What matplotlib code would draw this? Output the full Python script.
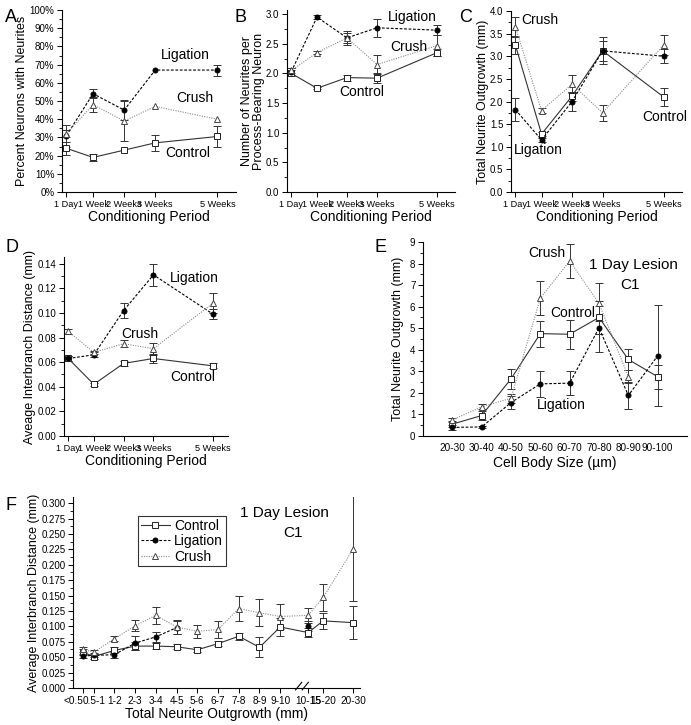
import numpy as np
import matplotlib.pyplot as plt
from matplotlib.ticker import MultipleLocator, AutoMinorLocator, FormatStrFormatter

plt.rcParams['font.family'] = ['Liberation Sans', 'DejaVu Sans']

# conditioning period (weeks) for panels A-D
weeks = [1 / 7, 1, 2, 3, 5]
week_labels = ["1 Day", "1 Week", "2 Weeks", "3 Weeks", "5 Weeks"]

# A: percent neurons with neurites
a_ctrl = [24, 19, 23, 27, 30.5]
a_ctrl_err = [3.5, 1.8, 0, 4.5, 5.5]
a_lig = [31, 54, 45, 67, 67]
a_lig_err = [6, 2.5, 5.5, 0, 3]
a_crush = [32, 48, 39, 47, 40]
a_crush_err = [2, 4, 11, 0, 0]

# B: neurites per process-bearing neuron
b_ctrl = [2.0, 1.75, 1.93, 1.92, 2.35]
b_ctrl_err = [0.05, 0.02, 0.05, 0.08, 0.06]
b_lig = [2.03, 2.95, 2.6, 2.77, 2.73]
b_lig_err = [0.06, 0.03, 0.12, 0.15, 0.09]
b_crush = [2.05, 2.35, 2.6, 2.15, 2.47]
b_crush_err = [0.04, 0.02, 0.08, 0.16, 0.18]

# C: total neurite outgrowth
c_ctrl = [3.25, 1.28, 2.12, 3.12, 2.1]
c_ctrl_err = [0.2, 0.05, 0.1, 0.22, 0.2]
c_lig = [1.82, 1.15, 2.0, 3.12, 3.0]
c_lig_err = [0.25, 0.04, 0.22, 0.3, 0.15]
c_crush = [3.65, 1.8, 2.38, 1.75, 3.25]
c_crush_err = [0.22, 0.06, 0.2, 0.18, 0.23]

# D: average interbranch distance
d_ctrl = [0.063, 0.042, 0.059, 0.063, 0.057]
d_ctrl_err = [0.002, 0.001, 0.002, 0.004, 0.002]
d_lig = [0.063, 0.066, 0.102, 0.131, 0.099]
d_lig_err = [0.002, 0.002, 0.006, 0.009, 0.004]
d_crush = [0.085, 0.068, 0.075, 0.071, 0.108]
d_crush_err = [0.002, 0.001, 0.003, 0.005, 0.008]

# E: outgrowth by cell body size
cell_bins = ["20-30", "30-40", "40-50", "50-60", "60-70", "70-80", "80-90", "90-100"]
e_ctrl = [0.55, 0.95, 2.65, 4.75, 4.72, 5.5, 3.55, 2.75]
e_ctrl_err = [0.15, 0.2, 0.48, 0.6, 0.68, 1.6, 0.5, 0.55]
e_lig = [0.4, 0.42, 1.55, 2.42, 2.45, 5.02, 1.88, 3.72]
e_lig_err = [0.1, 0.05, 0.3, 0.6, 0.55, 0.3, 0.62, 2.35]
e_crush = [0.75, 1.35, 1.75, 6.4, 8.12, 6.15, 2.75, np.nan]
e_crush_err = [0.1, 0.12, 0.2, 0.8, 0.78, 0.12, 0.3, 0]

# F: interbranch distance by total outgrowth
outgrowth_bins = ["<0.5", "0.5-1", "1-2", "2-3", "3-4", "4-5", "5-6", "6-7",
                  "7-8", "8-9", "9-10", "10-15", "15-20", "20-30"]
outgrowth_upper = [0.5, 1, 2, 3, 4, 5, 6, 7, 8, 9, 10, 15, 20, 30]
f_ctrl = [0.058, 0.051, 0.061, 0.068, 0.068, 0.067, 0.062, 0.072, 0.084, 0.066,
          0.099, 0.090, 0.109, 0.106]
f_ctrl_err = [0.005, 0.004, 0.005, 0.006, 0.005, 0.004, 0.004, 0.004, 0.006, 0.016,
              0.015, 0.007, 0.013, 0.027]
f_lig = [0.052, 0.053, 0.054, 0.073, 0.083, 0.098, np.nan, np.nan, np.nan, np.nan,
         np.nan, 0.100, np.nan, np.nan]
f_lig_err = [0.003, 0.003, 0.005, 0.012, 0.008, 0.01, 0, 0, 0, 0, 0, 0.008, 0, 0]
f_crush = [0.063, 0.058, 0.080, 0.101, 0.118, 0.099, 0.092, 0.095, 0.129, 0.122,
           0.116, 0.118, 0.147, 0.226]
f_crush_err = [0.004, 0.004, 0.004, 0.009, 0.014, 0.012, 0.011, 0.014, 0.021, 0.022,
               0.021, 0.012, 0.022, 0.085]

STYLES = {
    "Control": dict(color="#333333", ls="-", marker="s", mfc="white", mec="#222222", ms=4),
    "Ligation": dict(color="black", ls=(0, (2.5, 1.5)), marker="o", mfc="black", mec="black", ms=3.6),
    "Crush": dict(color="#8a8a8a", ls=(0, (1, 1.2)), marker="^", mfc="white", mec="#444444", ms=4),
}


def series(ax, x, y, err, name):
    x = np.asarray(x, float)
    y = np.asarray(y, float)
    err = np.asarray(err, float)
    ax.plot(x, y, lw=0.8, mew=0.7, label=name, zorder=3, **STYLES[name])
    ok = np.isfinite(y) & (err > 0)
    ax.errorbar(x[ok], y[ok], yerr=err[ok], fmt="none", ecolor="#333333",
                elinewidth=0.7, capsize=2.6, capthick=0.7, zorder=2)


def style(ax, xsize=7.2):
    for s in ["top", "right"]:
        ax.spines[s].set_visible(False)
    for s in ["left", "bottom"]:
        ax.spines[s].set_linewidth(0.8)
    ax.tick_params(labelsize=7, length=3.5, width=0.7, pad=2)
    ax.tick_params(axis="x", labelsize=xsize)
    ax.tick_params(which="minor", length=2, width=0.6)


fig = plt.figure(figsize=(6.91, 7.25), dpi=100)


def px_axes(left, top, right, bottom):
    return fig.add_axes([left / 691, 1 - bottom / 725, (right - left) / 691, (bottom - top) / 725])


def time_panel(ax, ctrl, ctrl_err, lig, lig_err, crush, crush_err):
    series(ax, weeks, ctrl, ctrl_err, "Control")
    series(ax, weeks, lig, lig_err, "Ligation")
    series(ax, weeks, crush, crush_err, "Crush")
    ax.set_xlim(0, 5.6)
    ax.set_xticks(weeks)
    ax.set_xticklabels(week_labels)
    ax.set_xlabel("Conditioning Period", fontsize=10, labelpad=1)
    style(ax, xsize=6.6)


# A
axA = px_axes(62, 10, 236, 192)
time_panel(axA, a_ctrl, a_ctrl_err, a_lig, a_lig_err, a_crush, a_crush_err)
axA.set_ylim(0, 100)
axA.yaxis.set_major_locator(MultipleLocator(10))
axA.yaxis.set_minor_locator(AutoMinorLocator(2))
axA.yaxis.set_major_formatter(FormatStrFormatter("%d%%"))
axA.set_ylabel("Percent Neurons with Neurites", fontsize=9, labelpad=1)
axA.text(3.97, 75, "Ligation", fontsize=10, ha="center", va="center")
axA.text(4.26, 51.6, "Crush", fontsize=10, ha="center", va="center")
axA.text(4.06, 21.4, "Control", fontsize=10, ha="center", va="center")

# B
axB = px_axes(287, 10, 455, 192)
time_panel(axB, b_ctrl, b_ctrl_err, b_lig, b_lig_err, b_crush, b_crush_err)
axB.set_ylim(0, 3.07)
axB.yaxis.set_major_locator(MultipleLocator(0.5))
axB.yaxis.set_minor_locator(AutoMinorLocator(2))
axB.yaxis.set_major_formatter(FormatStrFormatter("%.1f"))
axB.set_ylabel("Number of Neurites per\nProcess-Bearing Neuron", fontsize=9,
               labelpad=1, linespacing=0.95)
axB.text(4.17, 2.95, "Ligation", fontsize=10, ha="center", va="center")
axB.text(4.07, 2.45, "Crush", fontsize=10, ha="center", va="center")
axB.text(2.5, 1.69, "Control", fontsize=10, ha="center", va="center")

# C
axC = px_axes(511, 11, 682, 192)
time_panel(axC, c_ctrl, c_ctrl_err, c_lig, c_lig_err, c_crush, c_crush_err)
axC.set_ylim(0, 4)
axC.yaxis.set_major_locator(MultipleLocator(0.5))
axC.yaxis.set_minor_locator(AutoMinorLocator(2))
axC.yaxis.set_major_formatter(FormatStrFormatter("%.1f"))
axC.set_ylabel("Total Neurite Outgrowth (mm)", fontsize=9, labelpad=1)
axC.text(0.33, 3.8, "Crush", fontsize=10, ha="left", va="center")
axC.text(0.1, 0.93, "Ligation", fontsize=10, ha="left", va="center")
axC.text(5.02, 1.66, "Control", fontsize=10, ha="center", va="center")

# D
axD = px_axes(64, 257, 228, 436)
time_panel(axD, d_ctrl, d_ctrl_err, d_lig, d_lig_err, d_crush, d_crush_err)
axD.set_xlim(0, 5.5)
axD.set_ylim(0, 0.1455)
axD.yaxis.set_major_locator(MultipleLocator(0.02))
axD.yaxis.set_minor_locator(AutoMinorLocator(2))
axD.yaxis.set_major_formatter(FormatStrFormatter("%.2f"))
axD.set_ylabel("Aveage Interbranch Distance (mm)", fontsize=9, labelpad=1)
axD.text(4.36, 0.1286, "Ligation", fontsize=10, ha="center", va="center")
axD.text(2.55, 0.083, "Crush", fontsize=10, ha="center", va="center")
axD.text(4.33, 0.048, "Control", fontsize=10, ha="center", va="center")

# E
axE = px_axes(423, 242, 687, 436)
xe = np.arange(len(cell_bins))
series(axE, xe, e_ctrl, e_ctrl_err, "Control")
series(axE, xe, e_lig, e_lig_err, "Ligation")
series(axE, xe, e_crush, e_crush_err, "Crush")
axE.set_xlim(-1, 8)
axE.set_ylim(0, 9)
axE.set_xticks(xe)
axE.set_xticklabels(cell_bins)
axE.yaxis.set_major_locator(MultipleLocator(1))
axE.yaxis.set_minor_locator(AutoMinorLocator(2))
style(axE)
axE.tick_params(axis="x", length=0, pad=5)
axE.set_xlabel("Cell Body Size (µm)", fontsize=10, labelpad=2)
axE.set_ylabel("Total Neurite Outgrowth (mm)", fontsize=9, labelpad=4)
axE.text(3.23, 8.5, "Crush", fontsize=10, ha="center", va="center")
axE.text(6.16, 7.95, "1 Day Lesion", fontsize=11, ha="center", va="center")
axE.text(6.05, 7.0, "C1", fontsize=11, ha="center", va="center")
axE.text(4.1, 5.72, "Control", fontsize=10, ha="center", va="center")
axE.text(3.7, 1.44, "Ligation", fontsize=10, ha="center", va="center")


# F: axis broken between 10 and 15 mm
def squash(v):
    v = np.asarray(v, float)
    return np.where(v <= 10, v, 11.35 + (v - 15) * 0.145)


axF = px_axes(73, 497, 360, 688)
xf = squash(outgrowth_upper)
series(axF, xf, f_ctrl, f_ctrl_err, "Control")
series(axF, xf, f_lig, f_lig_err, "Ligation")
series(axF, xf, f_crush, f_crush_err, "Crush")
axF.set_xlim(0, 13.85)
axF.set_ylim(0, 0.31)
axF.set_xticks(xf)
axF.set_xticklabels(outgrowth_bins)
axF.yaxis.set_major_locator(MultipleLocator(0.025))
axF.yaxis.set_minor_locator(AutoMinorLocator(2))
axF.yaxis.set_major_formatter(FormatStrFormatter("%.3f"))
style(axF)
axF.tick_params(axis="x", pad=2)
axF.get_xticklabels()[0].set_ha("right")
axF.set_xlabel("Total Neurite Outgrowth (mm)", fontsize=10, labelpad=1)
axF.set_ylabel("Average Interbranch Distance (mm)", fontsize=9, labelpad=1)
axF.text(10.2, 0.284, "1 Day Lesion", fontsize=11, ha="center", va="center")
axF.text(10.6, 0.252, "C1", fontsize=11, ha="center", va="center")
leg = axF.legend(loc="upper left", bbox_to_anchor=(0.226, 0.90), fontsize=10,
                 frameon=True, fancybox=False, handlelength=2.1, handletextpad=0.3,
                 borderpad=0.2, labelspacing=0.1, borderaxespad=0)
leg.get_frame().set_edgecolor("black")
leg.get_frame().set_linewidth(0.8)
# break marks on the x axis
brk = axF.get_xaxis_transform()
for dx in (-0.16, 0.16):
    axF.plot([11.05 + dx - 0.15, 11.05 + dx + 0.15], [-0.01, 0.03], transform=brk,
             color="black", lw=0.8, clip_on=False, zorder=5)

# panel letters
for letter, (px, py) in {"A": (11, 17), "B": (240, 17), "C": (466, 18),
                         "D": (12, 248), "E": (381, 248), "F": (11, 505)}.items():
    fig.text(px / 691, 1 - py / 725, letter, fontsize=13, ha="center", va="center")

fig.savefig("out.png", dpi=100)
